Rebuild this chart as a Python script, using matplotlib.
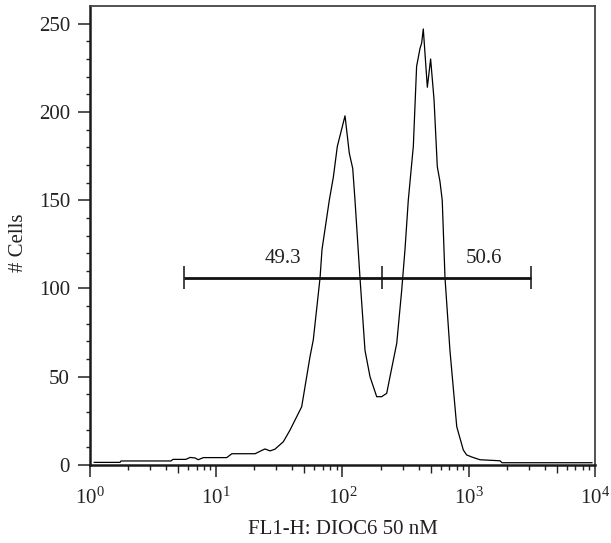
import matplotlib
matplotlib.use("Agg")
import matplotlib.pyplot as plt
from matplotlib.ticker import FixedLocator, NullFormatter

plt.rcParams['font.family'] = ['Liberation Serif', 'DejaVu Serif']
plt.rcParams['mathtext.fontset'] = 'custom'
plt.rcParams['mathtext.rm'] = 'Liberation Serif'
plt.rcParams['mathtext.it'] = 'Liberation Serif:italic'

# histogram: fluorescence channel vs. cell count
fl1 = [1.08, 1.73, 1.76, 4.38, 4.54, 5.75, 6.2, 6.79, 7.21, 7.89,
       12.1, 13.3, 20.3, 23.0, 24.3, 26.7, 29.2, 34.0, 38.4, 43.4,
       47.5, 55.3, 58.7, 66.4, 68.8, 78.6, 84.6, 91.0, 104.7, 113.2,
       120.5, 125.6, 137.6, 150.7, 165.2, 186.6, 204, 223.9, 237.8, 269,
       294.4, 312.6, 332, 363.9, 386.4, 411.1, 423.6, 436.5, 469.9, 498.9,
       530.9, 563.6, 591.6, 616.6, 648.6, 709.6, 803.5, 905.7, 963.5, 1061,
       1227, 1770, 1833, 9465]
cells = [1.5, 1.5, 2.3, 2.3, 3.2, 3.2, 4.3, 4.0, 3.0, 4.2,
         4.2, 6.4, 6.4, 8.3, 9.1, 8.0, 9.0, 13.2, 19.8, 27.4,
         33, 61.4, 70.9, 106, 122, 150, 163, 180.5, 197.8, 176.7,
         168, 150, 106, 65, 50, 38.7, 38.7, 40.6, 50, 69,
         99, 122, 150, 180.5, 225.8, 236, 239, 247, 214, 230,
         207, 169, 160.6, 150, 106, 65, 21.7, 8.5, 5.7, 4.5,
         3.0, 2.4, 1.3, 1.3]

# marker gate: left end, split, right end, level
gate_x = [5.55, 205, 3112]
gate_y = 106
gate_labels = ['49.3', '50.6']
gate_label_x = [33.8, 1320]
gate_label_y = 114.5

fig = plt.figure(figsize=(6.11, 5.43), dpi=100)
ax = fig.add_axes([0.1473, 0.1436, 0.8265, 0.8453])

ax.plot(fl1, cells, color='black', lw=0.9)

ax.hlines(gate_y, gate_x[0], gate_x[-1], color='#111111', lw=2.0)
ax.vlines(gate_x, gate_y - 6.5, gate_y + 6.5, color='#111111', lw=1.1)
for t, x in zip(gate_labels, gate_label_x):
    ax.text(x, gate_label_y, t, ha='center', va='baseline', fontsize=15, color='#222222')

ax.set_xscale('log')
ax.set_xlim(1, 1e4)
ax.set_ylim(0, 260)

ax.set_xticks([1, 10, 100, 1000, 10000])
ax.set_xticklabels([r'$\mathregular{10^{%d}}$' % i for i in range(5)])
minor_x = [m * 10**d for d in range(4) for m in (2, 3, 4, 6, 7, 8, 9)]
ax.xaxis.set_minor_locator(FixedLocator(minor_x))
ax.xaxis.set_minor_formatter(NullFormatter())

ax.set_yticks([0, 50, 100, 150, 200, 250])
ax.yaxis.set_minor_locator(FixedLocator(list(range(10, 260, 10))))

ax.tick_params(axis='both', which='major', direction='out', length=8.4, width=1.1,
               labelsize=15, colors='#222222')
ax.tick_params(axis='x', which='major', pad=7.5)
ax.tick_params(axis='y', which='major', pad=6)
ax.tick_params(axis='x', which='minor', direction='out', length=3.6, width=1.0, colors='#222222')
ax.tick_params(axis='y', which='minor', direction='out', length=2.9, width=1.0, colors='#222222')
ax.tick_params(top=False, right=False, which='both')

# medium ticks at 5, 50, 500, 5000
sec = ax.secondary_xaxis('bottom')
sec.set_xticks([5, 50, 500, 5000])
sec.tick_params(direction='out', length=5.8, width=1.0, labelbottom=False, colors='#222222')
sec.xaxis.set_minor_locator(FixedLocator([]))
sec.spines['bottom'].set_visible(False)

for side in ('left', 'bottom'):
    ax.spines[side].set_linewidth(1.8)
    ax.spines[side].set_color('#1a1a1a')
for side in ('top', 'right'):
    ax.spines[side].set_linewidth(1.3)
    ax.spines[side].set_color('#444444')

ax.set_xlabel('FL1-H: DIOC6 50 nM', fontsize=15, color='#222222')
ax.xaxis.set_label_coords(0.5, -0.120)
ax.set_ylabel('# Cells', fontsize=15, color='#222222')
ax.yaxis.set_label_coords(-0.122, 0.485)

fig.savefig('out.png', dpi=100)
